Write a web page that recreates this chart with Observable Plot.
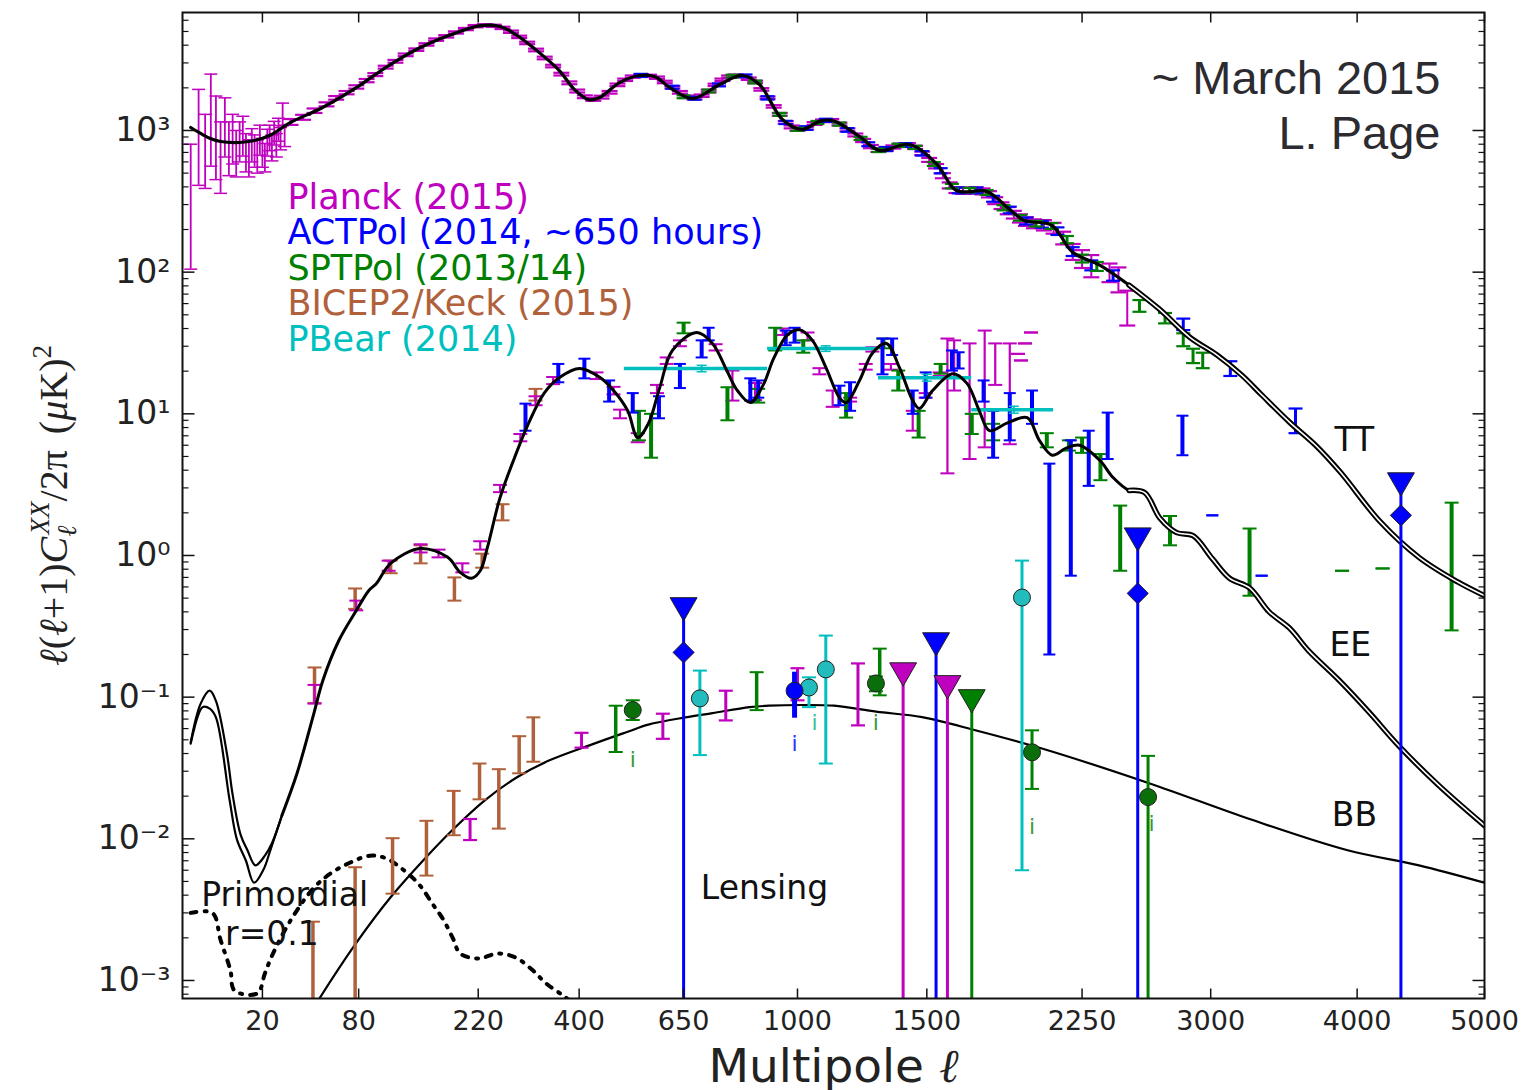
<!DOCTYPE html>
<html><head><meta charset="utf-8">
<script src="https://cdn.jsdelivr.net/npm/d3@7"></script>
<script src="https://cdn.jsdelivr.net/npm/@observablehq/plot@0.6"></script>
<style>html,body{margin:0;padding:0;background:#fff}svg{display:block}</style>
</head><body><div id="chart"></div>
<script>
// ---------- axis ticks ----------
const xTicks = [20, 80, 220, 400, 650, 1000, 1500, 2250, 3000, 4000, 5000];
const yTicks = [1e-3, 1e-2, 1e-1, 1, 10, 100, 1000];
const yTickLabels = ["10⁻³", "10⁻²", "10⁻¹", "10⁰", "10¹", "10²", "10³"];

// ---------- theory curves ----------
const ttL = [2,3.3,4.9,7,12,17,23,33,51,78,105,138,182,224,254,280,315,360,390,420,444,489,537,575,613,675,752,820,874,949,1017,1077,1125,1226,1304,1427,1545,1630,1770,1880,1950,2090,2200,2346,2510,2685,2870,3040,3200,3330,3520,3700,3880,4170,4470,4780,5000];
const ttD = [1050,953,878,836,823,850,922,1139,1430,2010,2780,3730,4760,5500,5420,4760,3730,2650,1950,1650,1710,2180,2445,2400,2010,1680,2110,2445,2110,1195,1016,1160,1177,907,723,797,575,377,371,277,232,214,138,112,81,55,34.7,26,18.7,13.6,8.7,6.0,3.85,1.74,0.97,0.65,0.52];

const eeL = [28.7,36.5,46,52.5,64,78,89,96,110,143,177,194,210,223,234,254,278,302,331,361,401,444,475,508,532,558,587,620,686,731,773,805,845,886,920,966,1007,1052,1101,1150,1175,1226,1276,1332,1385,1440,1468,1525,1614,1678,1735,1783,1866,1966,2027,2093,2163,2236,2346,2420,2510,2600,2690,2790,2890,3010,3120,3250,3380,3520,3650,3870,4090,4310,4625,5000];
const eeD = [0.0147,0.0289,0.0725,0.131,0.251,0.409,0.566,0.635,0.88,1.12,0.97,0.76,0.69,0.78,1.14,2.56,4.9,8.5,14.0,18.1,20.9,18.1,14.6,10.5,6.8,8.5,15.3,28.0,37.5,31.4,20.2,14.6,12.0,16.0,24.6,36.1,39.2,33.0,21.1,13.0,12.0,17.2,26.8,31.4,21.2,12.4,10.9,14.6,19.2,16.4,10.5,7.6,8.6,9.4,6.5,5.1,5.7,6.0,4.7,3.55,2.88,2.78,1.83,1.45,1.38,0.95,0.69,0.59,0.40,0.306,0.213,0.131,0.078,0.0457,0.0239,0.0124];
const eeLowAL = [2,3.3,4.8,6,8.5,10,12.3,14.5,17.3,21,24,28.7];
const eeLowAD = [0.048,0.09,0.111,0.094,0.040,0.0205,0.0107,0.0083,0.0065,0.0076,0.0093,0.0147];
const eeLowBL = [2,3.6,4.8,6,9.2,11.2,14,16.8,20.5,23.3,28.7];
const eeLowBD = [0.047,0.085,0.083,0.072,0.0187,0.0099,0.007,0.0049,0.0061,0.0083,0.0147];

const bbL = [45,50,77.5,110,146,183,230,283,341,432,508,558,655,731,843,905,1018,1130,1291,1480,1720,2040,2630,3250,3930,4470,5000];
const bbD = [0.0006,0.00074,0.00182,0.00387,0.00704,0.0115,0.0187,0.0273,0.0358,0.047,0.057,0.064,0.072,0.0772,0.085,0.087,0.088,0.087,0.079,0.0722,0.0582,0.0434,0.0246,0.0138,0.0083,0.0065,0.0049];

const prL = [2,5.3,7,9.4,10.5,18,21,24,33,46.5,58,73,90,105,124,142,157,171,184,194,221,250,280,310,335,368,395];
const prD = [0.0030,0.0030,0.00193,0.00118,0.00085,0.00081,0.00112,0.00149,0.00265,0.0045,0.0057,0.0068,0.0076,0.0073,0.0060,0.0047,0.0035,0.0027,0.00198,0.00155,0.00143,0.00155,0.00145,0.00118,0.00095,0.00078,0.00066];

// ---------- TT data ----------
const planckTTlowL = [2,3,4,5,6,7,8,9,10,11,12,13,14,15,16,17,18,19,20,21,22,23,24,25,26,27,28,29,30];
const planckTTlowV = [300,950,700,1300,950,620,1050,760,880,690,830,930,700,640,790,720,660,860,700,650,830,890,760,960,790,1020,880,1300,920];
const planckTTlowLo = [105,410,390,560,450,360,650,480,580,470,600,660,510,470,600,550,500,670,550,510,660,720,610,790,650,840,730,1080,770];
const planckTTlowHi = [800,1950,1300,2500,1750,1150,1700,1150,1300,1000,1150,1260,950,860,1030,930,860,1090,880,810,1020,1090,930,1160,950,1220,1050,1560,1090];

const planckTTL = [33,40,47,55,62,70,78,87,95,105, 115,126,138,150,162,175,188,202,216,230, 244,258,272,286,300,316,332,348,364,380, 396,412,430,448,466,484,502,520,540,560, 580,600,620,640,660,680,700,720,740,760, 780,800,820,840,860,880,900,920,940,960, 980,1000,1030,1060,1090,1120,1150,1180,1210,1240, 1270,1300,1330,1360,1390,1420,1450,1480,1510,1540, 1570,1600,1630,1660,1690,1720,1750,1780,1810,1840, 1870,1900,1930,1960,2000,2050,2100,2150,2200,2250, 2300,2400,2450,2500];
const planckTTV = [1150,1240,1380,1530,1700,1850,2030,2250,2480,2800, 3080,3420,3720,4050,4380,4620,4920,5200,5450,5530, 5480,5300,4980,4580,4150,3700,3250,2850,2500,2170, 1900,1730,1660,1720,1860,2100,2280,2400,2450,2430, 2360,2200,2020,1860,1730,1690,1760,1900,2100,2280, 2400,2440,2420,2320,2200,1950,1700,1480,1300,1140, 1060,1020,1040,1120,1170,1180,1110,1010,930,850, 770,725,740,765,790,795,760,690,620,560, 480,410,380,375,378,378,372,355,320,295, 272,255,240,228,220,215,205,175,140,125, 112,100,90,58];
const planckTTE = [55,50,50,50,50,50,55,60,60,65, 70,75,75,80,85,90,90,95,100,100, 100,100,95,90,85,80,70,60,55,50, 45,40,40,40,40,45,45,45,45,45, 45,45,40,40,35,35,35,40,40,45, 45,45,45,45,45,40,35,30,30,25, 25,25,25,25,25,25,25,25,22,22, 20,20,20,20,20,20,20,20,20,20, 20,20,18,18,18,18,18,18,18,16, 16,16,16,16,16,18,18,18,18,18, 20,15,18,16];

const actTTL = [540,620,680,750,830,900,960,1030,1100,1180,1260,1330,1410,1480,1560,1640,1720,1800,1880,1960,2040,2120,2200,2300,2420,2830,3125,3560];
const actTTV = [2450,2020,1690,2100,2430,1700,1140,1040,1180,1010,800,740,790,690,520,378,378,330,275,230,218,195,140,112,95,43,21,9.1];
const actTTE = [60,50,40,50,55,45,30,30,30,30,25,25,25,25,22,18,18,16,15,13,12,12,10,9,8,4,2.5,1.8];

const sptTTL = [650,720,790,860,940,1000,1070,1150,1230,1300,1380,1450,1530,1610,1690,1770,1850,1930,2010,2090,2170,2250,2330,2570,2720,2830,2890,2950];
const sptTTV = [1730,1900,2420,2200,1300,1020,1140,1110,880,725,785,760,580,405,380,365,285,242,220,212,170,125,110,58,47.5,33.5,25.8,24];
const sptTTE = [40,45,55,50,30,25,28,28,22,20,20,20,18,15,14,14,12,11,10,10,10,8,8,5.5,4,3.5,3,3];

// ---------- EE data ----------
const planckEEL = [47,78,108,143,165,197,223,254,288,315, 348,437,475,490,532,580,605,640,740,790, 860,950,1035,1077,1125,1190,1250,1276,1350,1440, 1495,1555,1590,1620,1690,1760,1810,1880,1920,1935, 1955,1985];
const planckEEV = [0.105,0.44,0.86,1.12,1.03,0.82,1.18,2.96,6.8,12.4, 17.2,18.6,14.6,10.0,6.8,15,23.8,31.4,29.4,16, 14.6,38,35,20,13,12.6,21.5,28.5,21.5,9, 13.5,19,11,22,10,13,22,12,26.5,23.8, 31.4,37.5];
const planckEELo = [0.09,0.41,0.78,1.05,0.97,0.76,1.1,2.8,6.4,11.5, 16.2,17.6,13.7,9.3,6.3,14,22.5,30,28,12.4, 12.5,36,33,19,11.2,12.2,20.5,27.5,20.5,7.6, 13,18.5,3.8,14.6,4.8,5.8,16,6.1,26.5,23.8, 31.4,37.5];
const planckEEHi = [0.122,0.48,0.92,1.2,1.1,0.88,1.26,3.15,7.2,13.3, 18.2,19.6,15.5,10.7,7.3,16,25,33,31,20.2, 16.5,40,37.5,21,14.6,13,22.5,29.5,22.5,10.5, 14,19.6,34,33,31.4,38.7,31.4,31.4,26.5,23.8, 31.4,37.5];

const actEEL = [297,358,411,465,520,585,640,700,720,845, 870,960,990,1150,1190,1316,1355,1440,1495,1610, 1640,1755,1800,1880,1990,2078,2190,2286,2390,2825, 3010,3330];
const actEEV = [9.5,19.5,21,14.5,12,11,18.5,29,36.5,15, 15,34.5,36,13.5,13.5,26,30,12,16,24, 24,14.5,7.5,9.5,11,1.0,2.2,4.9,7,7, 1.92,0.72];
const actEELo = [7.6,16.7,17.8,12.2,10.2,9.3,15.2,25,33,12.4, 13,30.5,31.8,11.5,10.5,19,26,10,13,20.2, 20.9,12.2,4.9,6.5,8.5,0.2,0.72,3.1,4.8,5.1, 1.92,0.72];
const actEEHi = [11.8,22.5,24.5,17.2,14,13.3,22.5,33,40.5,17.8, 17.2,38.7,40.5,15.8,16.7,34,34,14.6,19.6,28, 27.2,17.2,10.5,14,14.6,4.45,6.5,7.6,10.2,9.7, 1.92,0.72];

const sptEEL = [535,565,650,775,870,925,1020,1175,1320,1380, 1465,1560,1700,1800,2065,2180,2250,2350,2460,2750, 3250,3890,4190,4730];
const sptEEV = [8.3,7,40.5,12,13.5,34,30,11.5,31.5,17, 8.5,21,8.6,7.4,6.5,6,6.1,4.2,1.35,1.5, 0.9,0.78,0.81,0.85];
const sptEELo = [6.5,4.9,37,9,12,28,27,9.4,29,14.6, 6.8,19.2,7.2,6.5,5.8,5.5,5.3,3.4,0.78,1.18, 0.52,0.78,0.81,0.296];
const sptEEHi = [10.5,10,44,15.4,15,40.5,33,14,34,20.2, 10.5,22.5,10,8.5,7.3,6.5,6.8,5.2,2.25,1.9, 1.55,0.78,0.81,2.36];

const bicepEEL = [47,77,110,143,186,226,258,315];
const bicepEEV = [0.12,0.5,0.83,1.02,0.58,0.92,2.0,13.5];
const bicepEELo = [0.091,0.42,0.75,0.88,0.48,0.82,1.77,12.4];
const bicepEEHi = [0.162,0.585,0.92,1.18,0.7,1.03,2.3,15];

const pbearEELmin = [500,900,1300,1700];
const pbearEELmax = [900,1300,1700,2100];
const pbearEEV = [20.9,28.9,18.0,10.7];
const pbearEELo = [19.8,27.6,17.0,10.1];
const pbearEEHi = [22.0,30.2,19.0,11.3];

// ---------- BB data ----------
const bicepBBL = [46,77,112,150,185,222,252,286,311];
const bicepBBLo = [0.0001,0.0001,0.0041,0.0055,0.0106,0.019,0.0118,0.029,0.035];
const bicepBBHi = [0.0026,0.0063,0.0101,0.0134,0.0218,0.034,0.031,0.053,0.072];
const planckBBL = [208,405,595,770,1000,1220];
const planckBBLo = [0.0098,0.044,0.0508,0.0685,0.095,0.0632];
const planckBBHi = [0.0138,0.056,0.0764,0.111,0.16,0.173];
const sptBBbarL = [480,865,1305];
const sptBBbarLo = [0.041,0.081,0.103];
const sptBBbarHi = [0.087,0.15,0.22];
const sptBBL = [520,1290,1990,2620];
const sptBBV = [0.081,0.125,0.0408,0.0197];
const sptBBLo = [0.069,0.11,0.0225,0.0001];
const sptBBHi = [0.095,0.14,0.0583,0.0385];
const actBBL = [990];
const actBBV = [0.111];
const actBBLo = [0.071];
const actBBHi = [0.15];
const pbearBBL = [695,1040,1100,1940];
const pbearBBV = [0.098,0.117,0.157,0.505];
const pbearBBLo = [0.039,0.085,0.034,0.006];
const pbearBBHi = [0.154,0.138,0.272,0.92];
const actLimL = [650,1540,2560,4330];
const actLimV = [0.444,0.251,1.38,3.38];
const planckLimL = [1400,1590];
const planckLimV = [0.154,0.125];
const sptLimL = [1700];
const sptLimV = [0.0995];
const actDiamL = [650,2560,4330];
const actDiamV = [0.207,0.54,1.92];
const iMarkL = [520,990,1060,1290,1990,2640];
const iMarkV = [0.0358,0.047,0.066,0.066,0.0122,0.0128];
const iMarkSeries = ["spt","act","pbear","spt","spt","spt"];

// ---------- text ----------
const legendNames = ["Planck (2015)", "ACTPol (2014, ~650 hours)", "SPTPol (2013/14)", "BICEP2/Keck (2015)", "PBear (2014)"];
const legendKeys = ["planck", "act", "spt", "bicep", "pbear"];
const annText = ["TT", "EE", "BB", "Lensing", "Primordial", "r=0.1"];
const annL = [3980, 3950, 3980, 890, 30, 24];
const annV = [6.5, 0.232, 0.0146, 0.00449, 0.0040, 0.0021];

const C = {planck:"#bf00bf", act:"#0000ff", spt:"#008000", bicep:"#b0603a", pbear:"#00bfbf"};
const FILL = {spt:"#0a6e0a", act:"#0000ff", pbear:"#22bcbc"};

// ---------- helpers ----------
const rows = (l, v, lo, hi) => l.map((d, i) => ({l: d, v: v ? v[i] : undefined, lo: lo ? lo[i] : undefined, hi: hi ? hi[i] : undefined}));
const rowsE = (l, v, e) => l.map((d, i) => ({l: d, v: v[i], lo: v[i] - e[i], hi: v[i] + e[i]}));
const seg = (x1, y1, x2, y2) => ({draw(c) { c.moveTo(x1, y1); c.lineTo(x2, y2); }});
function errorbars(data, color, {w = 2, cap = 14, capW = 1.6} = {}) {
  const s = seg(-cap / 2, 0, cap / 2, 0);
  return [
    Plot.ruleX(data, {x: "l", y1: "lo", y2: "hi", stroke: color, strokeWidth: w, clip: true}),
    Plot.dot(data, {x: "l", y: "lo", symbol: s, stroke: color, fill: "none", strokeWidth: capW, clip: true}),
    Plot.dot(data, {x: "l", y: "hi", symbol: s, stroke: color, fill: "none", strokeWidth: capW, clip: true})
  ];
}
const yMinor = [];
for (let k = -4; k <= 3; k++) for (let m = 2; m <= 9; m++) { const v = m * Math.pow(10, k); if (v > 7.5e-4 && v < 6800) yMinor.push(v); }

const ttRows = rows(ttL, ttD), eeRows = rows(eeL, eeD);
const curveOpts = {x: "l", y: "v", curve: "catmull-rom", clip: true};
const pbearRows = pbearEELmin.map((a, i) => ({lmin: a, lmax: pbearEELmax[i], l: (a + pbearEELmax[i]) / 2, v: pbearEEV[i], lo: pbearEELo[i], hi: pbearEEHi[i]}));

const limits = [[actLimL, actLimV, "act"], [planckLimL, planckLimV, "planck"], [sptLimL, sptLimV, "spt"]];
const ink = "#111";

const plot = Plot.plot({
  width: 1524, height: 1090,
  marginLeft: 182, marginRight: 40, marginTop: 12, marginBottom: 92,
  style: {fontFamily: "'DejaVu Sans', sans-serif", background: "#fff", overflow: "visible"},
  x: {type: "pow", exponent: 0.45, domain: [1.19, 5000], axis: null},
  y: {type: "log", domain: [7.46e-4, 6806], axis: null},
  marks: [
    // TT data
    ...errorbars(rows(planckTTlowL, planckTTlowV, planckTTlowLo, planckTTlowHi), C.planck, {w: 1.8, cap: 13, capW: 1.5}),
    ...errorbars(rowsE(planckTTL, planckTTV, planckTTE), C.planck, {w: 2, cap: 16, capW: 2.2}),
    ...errorbars(rowsE(actTTL, actTTV, actTTE), C.act, {w: 3, cap: 14, capW: 2.2}),
    ...errorbars(rowsE(sptTTL, sptTTV, sptTTE), C.spt, {w: 3, cap: 14, capW: 2.2}),
    // EE data
    ...errorbars(rows(bicepEEL, bicepEEV, bicepEELo, bicepEEHi), C.bicep, {w: 3.5, cap: 14, capW: 2}),
    ...errorbars(rows(planckEEL, planckEEV, planckEELo, planckEEHi), C.planck, {w: 2.2, cap: 14, capW: 2}),
    ...errorbars(rows(sptEEL, sptEEV, sptEELo, sptEEHi), C.spt, {w: 4, cap: 14, capW: 2}),
    ...errorbars(rows(actEEL, actEEV, actEELo, actEEHi), C.act, {w: 4, cap: 12, capW: 2}),
    Plot.ruleY(pbearRows, {y: "v", x1: "lmin", x2: "lmax", stroke: C.pbear, strokeWidth: 3.5, clip: true}),
    ...errorbars(pbearRows, C.pbear, {w: 2, cap: 10, capW: 1.5}),
    // theory curves
    Plot.line(ttRows, {...curveOpts, stroke: "#000", strokeWidth: 3.2}),
    Plot.line(ttRows.filter(d => d.l >= 2500), {...curveOpts, stroke: "#000", strokeWidth: 5.5}),
    Plot.line(ttRows.filter(d => d.l >= 2500), {...curveOpts, stroke: "#fff", strokeWidth: 1.6}),
    Plot.line(eeRows, {...curveOpts, stroke: "#000", strokeWidth: 3}),
    Plot.line(eeRows.filter(d => d.l >= 2500), {...curveOpts, stroke: "#000", strokeWidth: 5.5}),
    Plot.line(eeRows.filter(d => d.l >= 2500), {...curveOpts, stroke: "#fff", strokeWidth: 1.6}),
    Plot.line(rows(eeLowAL, eeLowAD), {...curveOpts, stroke: "#000", strokeWidth: 2.2}),
    Plot.line(rows(eeLowBL, eeLowBD), {...curveOpts, stroke: "#000", strokeWidth: 2.2}),
    Plot.line(rows(bbL, bbD), {...curveOpts, stroke: "#000", strokeWidth: 2.2}),
    Plot.line(rows(prL, prD), {...curveOpts, stroke: "#000", strokeWidth: 4, strokeDasharray: "6,8,2,8", strokeLinecap: "round"}),
    // BB data
    ...errorbars(rows(bicepBBL, null, bicepBBLo, bicepBBHi), C.bicep, {w: 3.5, cap: 14, capW: 2}),
    ...errorbars(rows(planckBBL, null, planckBBLo, planckBBHi), C.planck, {w: 3, cap: 14, capW: 2.2}),
    ...errorbars(rows(sptBBbarL, null, sptBBbarLo, sptBBbarHi), C.spt, {w: 3.5, cap: 14, capW: 2}),
    ...limits.map(([l, v, k]) => Plot.ruleX(rows(l, v), {x: "l", y1: "v", y2: 1e-5, stroke: C[k], strokeWidth: 3, clip: true})),
    ...errorbars(rows(sptBBL, sptBBV, sptBBLo, sptBBHi), C.spt, {w: 3, cap: 14, capW: 2}),
    ...errorbars(rows(pbearBBL, pbearBBV, pbearBBLo, pbearBBHi), C.pbear, {w: 3, cap: 14, capW: 2}),
    Plot.ruleX(rows(actBBL, actBBV, actBBLo, actBBHi), {x: "l", y1: "lo", y2: "hi", stroke: C.act, strokeWidth: 5, clip: true}),
    Plot.dot(rows(sptBBL, sptBBV), {x: "l", y: "v", r: 8.5, fill: FILL.spt, stroke: "#222", strokeWidth: 1, clip: true}),
    Plot.dot(rows(pbearBBL, pbearBBV), {x: "l", y: "v", r: 8.5, fill: FILL.pbear, stroke: "#222", strokeWidth: 1, clip: true}),
    Plot.dot(rows(actBBL, actBBV), {x: "l", y: "v", r: 8.5, fill: FILL.act, stroke: "#222", strokeWidth: 1, clip: true}),
    ...limits.map(([l, v, k]) => Plot.dot(rows(l, v), {x: "l", y: "v", symbol: "triangle", rotate: 180, r: 10, fill: C[k], stroke: "#222", strokeWidth: 1, clip: true})),
    Plot.dot(rows(actDiamL, actDiamV), {x: "l", y: "v", symbol: "diamond2", r: 9.5, fill: C.act, stroke: "#222", strokeWidth: 1, clip: true}),
    ...["spt", "act", "pbear"].map(k => Plot.text(rows(iMarkL, iMarkV).filter((d, i) => iMarkSeries[i] === k), {x: "l", y: "v", text: () => "i", fill: k === "spt" ? "#3a9a3a" : k === "act" ? "#3030ff" : "#40c0a0", fontSize: 22})),
    // frame and ticks
    Plot.frame({stroke: ink, strokeWidth: 2}),
    Plot.dot(xTicks, {x: d => d, frameAnchor: "bottom", symbol: seg(0, 0, 0, -10), stroke: ink, fill: "none", strokeWidth: 1.5}),
    Plot.dot(xTicks, {x: d => d, frameAnchor: "top", symbol: seg(0, 0, 0, 10), stroke: ink, fill: "none", strokeWidth: 1.5}),
    Plot.dot(yTicks, {y: d => d, frameAnchor: "left", symbol: seg(0, 0, 12, 0), stroke: ink, fill: "none", strokeWidth: 1.5}),
    Plot.dot(yTicks, {y: d => d, frameAnchor: "right", symbol: seg(0, 0, -12, 0), stroke: ink, fill: "none", strokeWidth: 1.5}),
    Plot.dot(yMinor, {y: d => d, frameAnchor: "left", symbol: seg(0, 0, 6, 0), stroke: ink, fill: "none", strokeWidth: 1.2}),
    Plot.dot(yMinor, {y: d => d, frameAnchor: "right", symbol: seg(0, 0, -6, 0), stroke: ink, fill: "none", strokeWidth: 1.2}),
    Plot.text(xTicks, {x: d => d, frameAnchor: "bottom", dy: 23, lineAnchor: "middle", text: d => String(d), fontSize: 27, fill: "#222"}),
    Plot.text(yTicks, {y: d => d, frameAnchor: "left", dx: -12, textAnchor: "end", lineAnchor: "middle", text: (d, i) => yTickLabels[i], fontSize: 33, fill: "#222"}),
    Plot.text([0], {frameAnchor: "bottom", dy: 68, lineAnchor: "middle", textAnchor: "middle", text: () => "Multipole ℓ", fontSize: 47, fill: "#222", ariaDescription: "xlabel"}),
    Plot.text([0], {frameAnchor: "left", dx: -128, rotate: -90, textAnchor: "middle", lineAnchor: "middle", text: () => "y", fontSize: 40, fill: "#222", ariaDescription: "ylabel"}),
    // legend and annotations
    ...legendNames.map((name, i) => Plot.text([name], {frameAnchor: "top-left", dx: 105, dy: 185 + i * 35.5, lineAnchor: "middle", text: d => d, textAnchor: "start", fontSize: 35, fill: C[legendKeys[i]]})),
    Plot.text(rows(annL, annV).map((d, i) => ({...d, t: annText[i]})), {x: "l", y: "v", text: "t", fontSize: 33, fill: "#111"}),
    Plot.text(["~ March 2015"], {frameAnchor: "top-right", dx: -44, dy: 66, lineAnchor: "middle", text: d => d, textAnchor: "end", fontSize: 47, fontFamily: "'Liberation Sans', Arial, sans-serif", fill: "#2b2b30"}),
    Plot.text(["L. Page"], {frameAnchor: "top-right", dx: -44, dy: 121, lineAnchor: "middle", text: d => d, textAnchor: "end", fontSize: 47, fontFamily: "'Liberation Sans', Arial, sans-serif", fill: "#2b2b30"})
  ]
});
document.getElementById("chart").appendChild(plot);

// math styling of the axis labels
const yl = plot.querySelector('[aria-description="ylabel"] text');
if (yl) {
  yl.setAttribute("font-family", "'Liberation Serif', 'DejaVu Serif', serif");
  yl.innerHTML = '<tspan font-style="italic">ℓ</tspan>(<tspan font-style="italic">ℓ</tspan>+1)<tspan font-style="italic">C</tspan><tspan font-style="italic" font-size="27" dy="9">ℓ</tspan><tspan font-style="italic" font-size="27" dx="-9" dy="-27">XX</tspan><tspan dy="18">/2π</tspan><tspan dx="16">(</tspan><tspan font-style="italic">μ</tspan>K)<tspan font-size="27" dy="-16">2</tspan>';
}
const xl = plot.querySelector('[aria-description="xlabel"] text');
if (xl) xl.innerHTML = 'Multipole <tspan font-family="\'Liberation Serif\', serif" font-style="italic">ℓ</tspan>';
</script>
</body></html>
